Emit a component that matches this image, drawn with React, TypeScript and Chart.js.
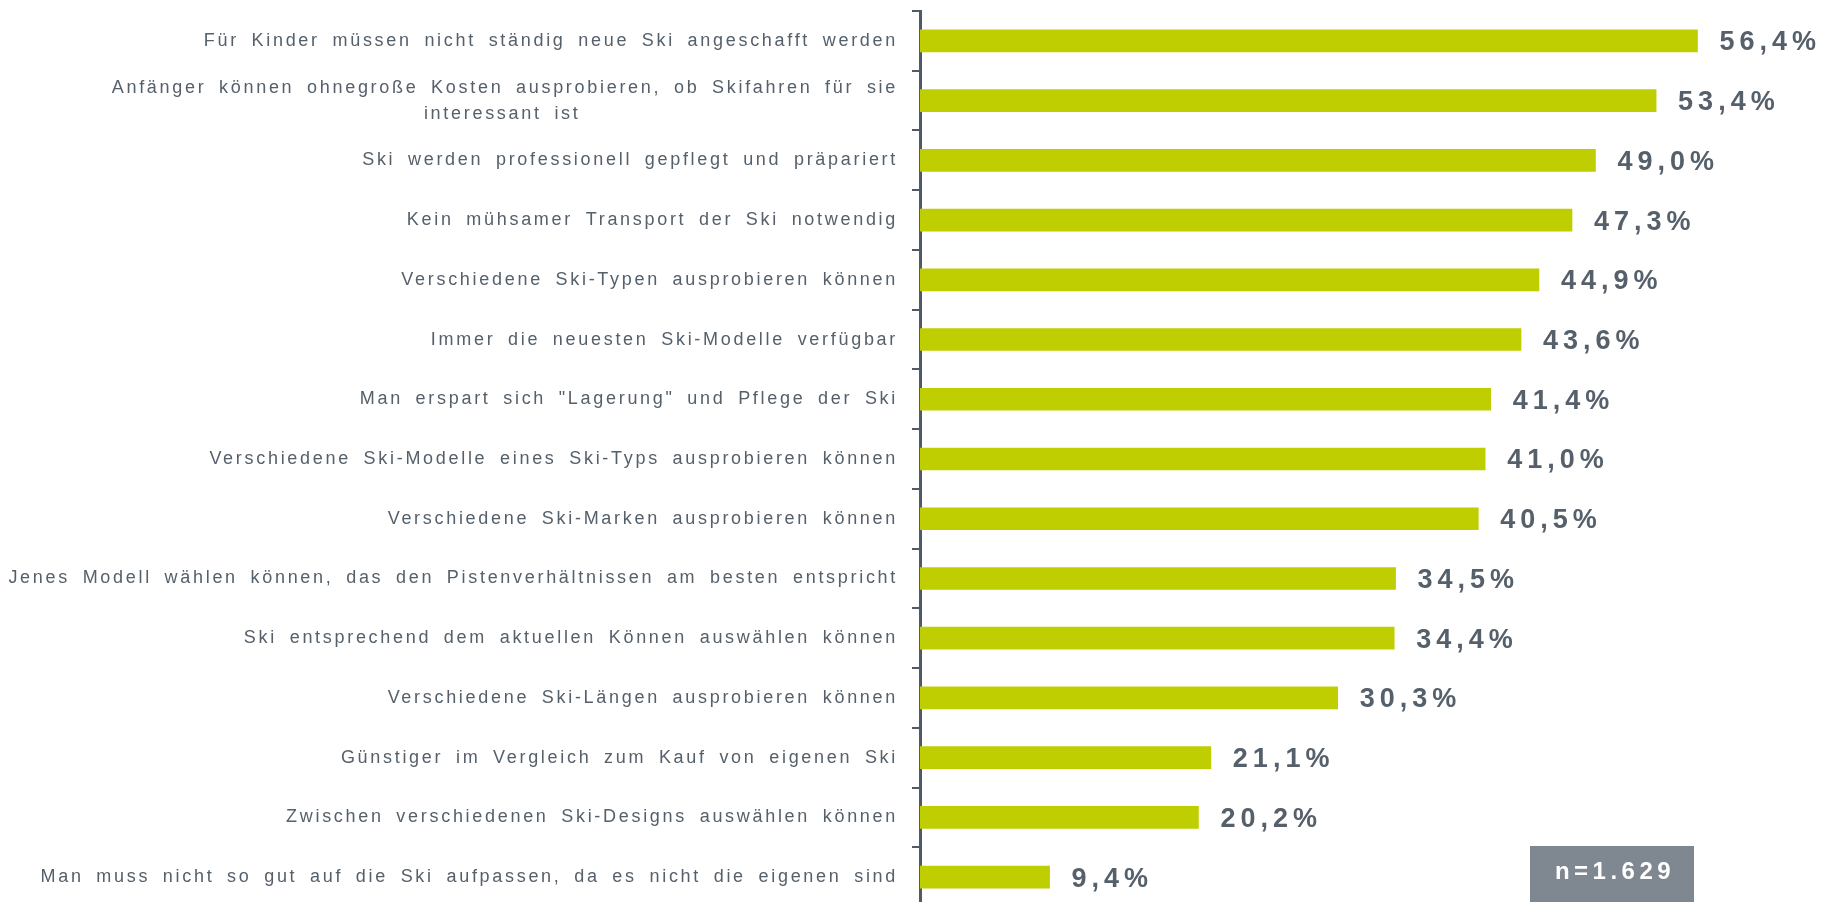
import React, { useEffect, useRef } from "react";
import { Chart, registerables } from "chart.js";

Chart.register(...registerables);

const PAD = "                         ";

const categories: (string | string[])[] = [
  "Für Kinder müssen nicht ständig neue Ski angeschafft werden",
  ["Anfänger können ohnegroße Kosten ausprobieren, ob Skifahren für sie", "interessant ist" + PAD],
  "Ski werden professionell gepflegt und präpariert",
  "Kein mühsamer Transport der Ski notwendig",
  "Verschiedene Ski-Typen ausprobieren können",
  "Immer die neuesten Ski-Modelle verfügbar",
  "Man erspart sich \"Lagerung\" und Pflege der Ski",
  "Verschiedene Ski-Modelle eines Ski-Typs ausprobieren können",
  "Verschiedene Ski-Marken ausprobieren können",
  "Jenes Modell wählen können, das den Pistenverhältnissen am besten entspricht",
  "Ski entsprechend dem aktuellen Können auswählen können",
  "Verschiedene Ski-Längen ausprobieren können",
  "Günstiger im Vergleich zum Kauf von eigenen Ski",
  "Zwischen verschiedenen Ski-Designs auswählen können",
  "Man muss nicht so gut auf die Ski aufpassen, da es nicht die eigenen sind",
];

const values: number[] = [56.4, 53.4, 49.0, 47.3, 44.9, 43.6, 41.4, 41.0, 40.5, 34.5, 34.4, 30.3, 21.1, 20.2, 9.4];

const sampleNote = "n=1.629";

const BAR = "#BFCE00";
const AXIS = "#505A66";
const TEXT = "#55606B";
const FONT = "'Liberation Sans', Arial, sans-serif";

export default function App() {
  const ref = useRef<HTMLCanvasElement | null>(null);

  useEffect(() => {
    const canvas = ref.current!;
    const valueLabels = {
      id: "valueLabels",
      beforeDraw(chart: any) {
        const ctx = chart.ctx;
        ctx.letterSpacing = "2.7px";
        ctx.wordSpacing = "5px";
      },
      afterDatasetsDraw(chart: any) {
        const ctx = chart.ctx;
        const meta = chart.getDatasetMeta(0);
        ctx.save();
        ctx.letterSpacing = "5px";
        ctx.wordSpacing = "0px";
        ctx.font = `bold 27px ${FONT}`;
        ctx.fillStyle = TEXT;
        ctx.textAlign = "left";
        ctx.textBaseline = "middle";
        meta.data.forEach((el: any, i: number) => {
          const txt = values[i].toFixed(1).replace(".", ",") + "%";
          ctx.fillText(txt, el.x + 22, el.y + 2);
        });
        ctx.restore();
      },
      afterDraw(chart: any) {
        const ctx = chart.ctx;
        ctx.save();
        ctx.fillStyle = "#7F8790";
        ctx.fillRect(1530, 846, 164, 80);
        ctx.letterSpacing = "4.5px";
        ctx.wordSpacing = "0px";
        ctx.font = `bold 24px ${FONT}`;
        ctx.fillStyle = "#FFFFFF";
        ctx.textAlign = "center";
        ctx.textBaseline = "middle";
        ctx.fillText(sampleNote, 1615, 872);
        ctx.restore();
      },
    };

    const chart = new Chart(canvas, {
      type: "bar",
      data: {
        labels: categories,
        datasets: [
          {
            data: values,
            backgroundColor: BAR,
            barThickness: 22,
            borderWidth: 0,
          },
        ],
      },
      options: {
        indexAxis: "y",
        responsive: false,
        animation: false,
        devicePixelRatio: 1,
        layout: { padding: { top: 11, bottom: 13, left: 0, right: 18 } },
        plugins: { legend: { display: false }, tooltip: { enabled: false } },
        scales: {
          x: { display: false, min: 0, max: 65 },
          y: {
            afterFit: (s: any) => {
              s.width = 920;
              s.paddingTop = 0;
              s.paddingBottom = 0;
            },
            border: { display: true, color: AXIS, width: 3 },
            grid: {
              display: true,
              drawOnChartArea: false,
              drawTicks: true,
              tickLength: 8,
              color: AXIS,
              lineWidth: 2,
              offset: true,
            },
            ticks: {
              autoSkip: false,
              color: TEXT,
              padding: 14,
              font: { family: FONT, size: 18, lineHeight: 1.45 },
            },
          },
        },
      },
      plugins: [valueLabels],
    });
    return () => chart.destroy();
  }, []);

  return (
    <div
      style={{
        position: "fixed",
        left: 0,
        top: 0,
        width: 1834,
        height: 902,
        overflow: "hidden",
        background: "#fff",
      }}
    >
      <canvas ref={ref} width={1834} height={920} style={{ display: "block", width: 1834, height: 920 }} />
    </div>
  );
}
